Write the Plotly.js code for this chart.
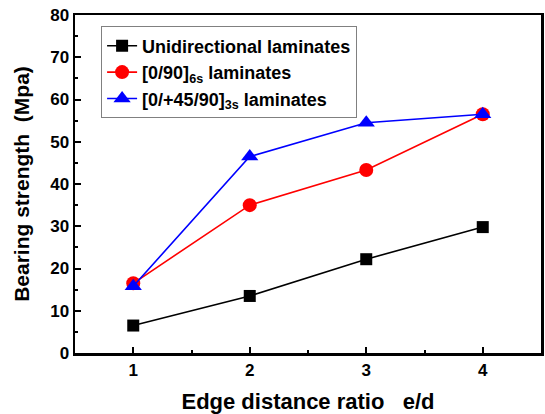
<!DOCTYPE html>
<html><head><meta charset="utf-8">
<script src="https://cdn.plot.ly/plotly-3.0.1.min.js"></script>
<style>body{margin:0;padding:0;background:#fff}#c{width:545px;height:414px}</style>
</head><body><div id="c"></div>
<script>
const edRatio = [1, 2, 3, 4];
const uniStrength = [6.5, 13.5, 22.2, 29.8];
const cross090Strength = [16.5, 35.0, 43.3, 56.5];
const quasiStrength = [15.8, 46.5, 54.5, 56.5];
const seriesNames = ['<b>Unidirectional laminates</b>', '<b>[0/90]<sub>6s</sub> laminates</b>', '<b>[0/+45/90]<sub>3s</sub> laminates</b>'];
const xTicks = [1, 2, 3, 4];
const yTicks = [0, 10, 20, 30, 40, 50, 60, 70, 80];

const F = 'Liberation Sans, Arial, sans-serif';
const traces = [
  {x: edRatio, y: uniStrength, name: seriesNames[0], mode: 'lines+markers', line: {color: '#000000', width: 1.6}, marker: {symbol: 'square', size: 12, color: '#000000'}},
  {x: edRatio, y: cross090Strength, name: seriesNames[1], mode: 'lines+markers', line: {color: '#ff0000', width: 1.6}, marker: {symbol: 'circle', size: 14, color: '#ff0000'}},
  {x: edRatio, y: quasiStrength, name: seriesNames[2], mode: 'lines+markers', line: {color: '#0000ff', width: 1.6}, marker: {symbol: 'triangle-up', size: 15, color: '#0000ff'}}
];
const layout = {
  width: 545, height: 414,
  margin: {l: 75, r: 4, t: 15, b: 61},
  paper_bgcolor: '#fff', plot_bgcolor: '#fff',
  font: {family: F, color: '#000'},
  showlegend: true,
  legend: {x: 0.056, y: 0.966, xanchor: 'left', yanchor: 'top', bordercolor: '#808080', borderwidth: 1, bgcolor: '#fff',
    font: {family: F, size: 18, weight: 'bold', color: '#000'}, tracegroupgap: 0, itemwidth: 30},
  xaxis: {range: [0.5, 4.5], tickvals: xTicks, ticks: 'inside', ticklen: 6, tickwidth: 2, tickcolor: '#000',
    minor: {dtick: 0.5, tick0: 0.5, ticks: 'inside', ticklen: 3, tickwidth: 2, tickcolor: '#000'},
    showline: true, linewidth: 2.5, linecolor: '#000', mirror: true, showgrid: false, zeroline: false,
    tickfont: {family: F, size: 17, weight: 'bold'},
    title: {text: '<b>Edge distance ratio   e/d</b>', font: {family: F, size: 22, weight: 'bold'}, standoff: 15}},
  yaxis: {range: [0, 80], tickvals: yTicks, ticks: 'inside', ticklen: 6, tickwidth: 2, tickcolor: '#000',
    minor: {dtick: 5, tick0: 0, ticks: 'inside', ticklen: 3, tickwidth: 2, tickcolor: '#000'},
    showline: true, linewidth: 2.5, linecolor: '#000', mirror: true, showgrid: false, zeroline: false,
    tickfont: {family: F, size: 17, weight: 'bold'},
    title: {text: '<b>Bearing strength  (Mpa)</b>', font: {family: F, size: 21, weight: 'bold'}, standoff: 15}}
};
Plotly.newPlot('c', traces, layout, {displayModeBar: false, staticPlot: true});
</script></body></html>
